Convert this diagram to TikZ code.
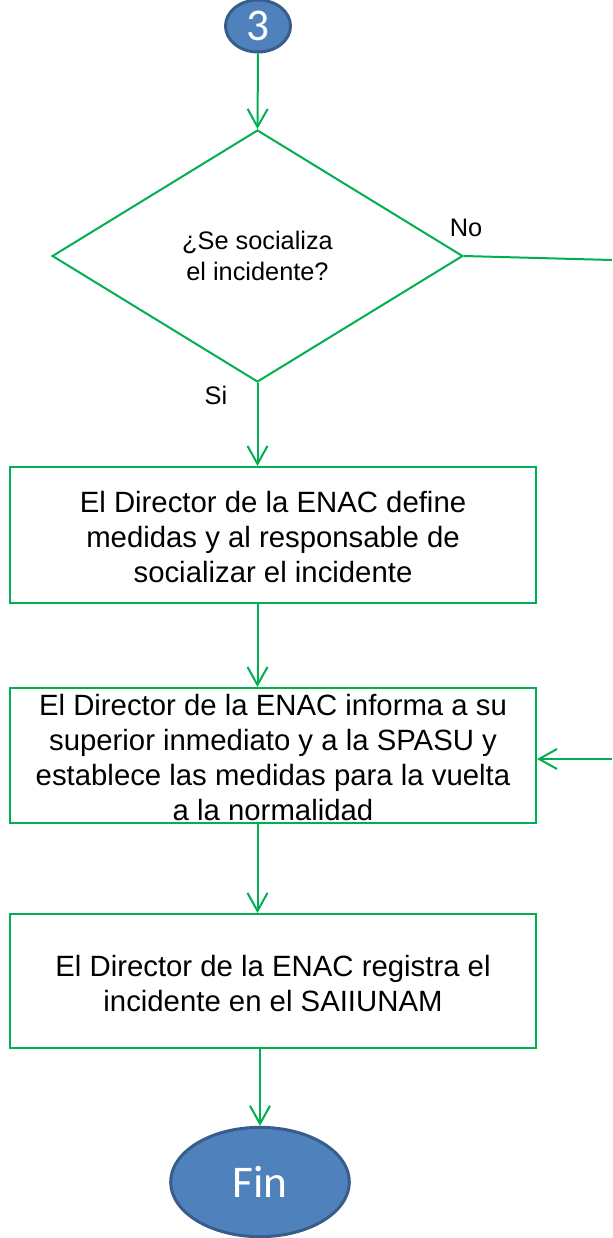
\documentclass[tikz,border=0pt]{standalone}
\usepackage{fontspec}
\setmainfont{Liberation Sans}
\newfontfamily\calibfont{Carlito}
\usetikzlibrary{arrows.meta,shapes.geometric}
\definecolor{flowgreen}{RGB}{0,176,80}
\definecolor{termfill}{RGB}{79,129,189}
\definecolor{termline}{RGB}{56,93,138}
\begin{document}
\begin{tikzpicture}[x=0.75pt,y=-0.75pt,
  line/.style={draw=flowgreen,line width=1.5pt},
  flow/.style={line,-{Straight Barb[length=13.5pt,width=15pt,line width=1.5pt]}},
  procbox/.style={draw=flowgreen,line width=1.5pt,rectangle,minimum width=394.5pt,inner sep=0pt},
  boxtext/.style={align=center,font=\fontsize{22}{26.25}\selectfont,inner sep=0pt},
  decision/.style={draw=flowgreen,line width=1.5pt,diamond,minimum width=308pt,minimum height=189pt,inner sep=0pt,align=center,font=\fontsize{19}{23.25}\selectfont},
  lbl/.style={font=\fontsize{19}{23}\selectfont,inner sep=0pt},
  term/.style={ellipse,draw=termline,fill=termfill,line width=2.25pt,text=white,inner sep=0pt,font=\calibfont\fontsize{34}{34}\selectfont}
]
\useasboundingbox (0,0) rectangle (612,1238);
\fill[white] (0,0) rectangle (612,1238);

\node[term,minimum width=48.75pt,minimum height=39pt] (c3) at (258,26) {3};
\node[decision] (dec) at (257.5,256) {¿Se socializa\\el incidente?};
\node[procbox,minimum height=102pt] (b1) at (273,535) {};
\node[boxtext] (t1) at (273,537) {El Director de la ENAC define\\medidas y al responsable de\\socializar el incidente};
\node[procbox,minimum height=101.25pt] (b2) at (273,755.5) {};
\node[boxtext] (t2) at (273,758) {El Director de la ENAC informa a su\\superior inmediato y a la SPASU y\\establece las medidas para la vuelta\\a la normalidad};
\node[procbox,minimum height=100.5pt] (b3) at (273,981) {};
\node[boxtext] (t3) at (273,984) {El Director de la ENAC registra el\\incidente en el SAIIUNAM};
\node[term,minimum width=134pt,minimum height=82pt] (fin) at (260,1182) {Fin};

\node[lbl] (nolbl) at (466,228) {No};
\node[lbl] (silbl) at (216,395) {Si};

\coordinate (noend) at (612,260);
\coordinate (retstart) at (612,759);

\draw[flow] (c3.south) -- (dec.north);
\draw[line] (dec.east) -- (noend);
\draw[flow] (dec.south) -- (dec.south |- b1.north);
\draw[flow] (b1.south -| dec.south) -- (b2.north -| dec.south);
\draw[flow] (b2.south -| dec.south) -- (b3.north -| dec.south);
\draw[flow] (b3.south -| fin.north) -- (fin.north);
\draw[flow] (retstart) -- (retstart -| b2.east);
\end{tikzpicture}
\end{document}
